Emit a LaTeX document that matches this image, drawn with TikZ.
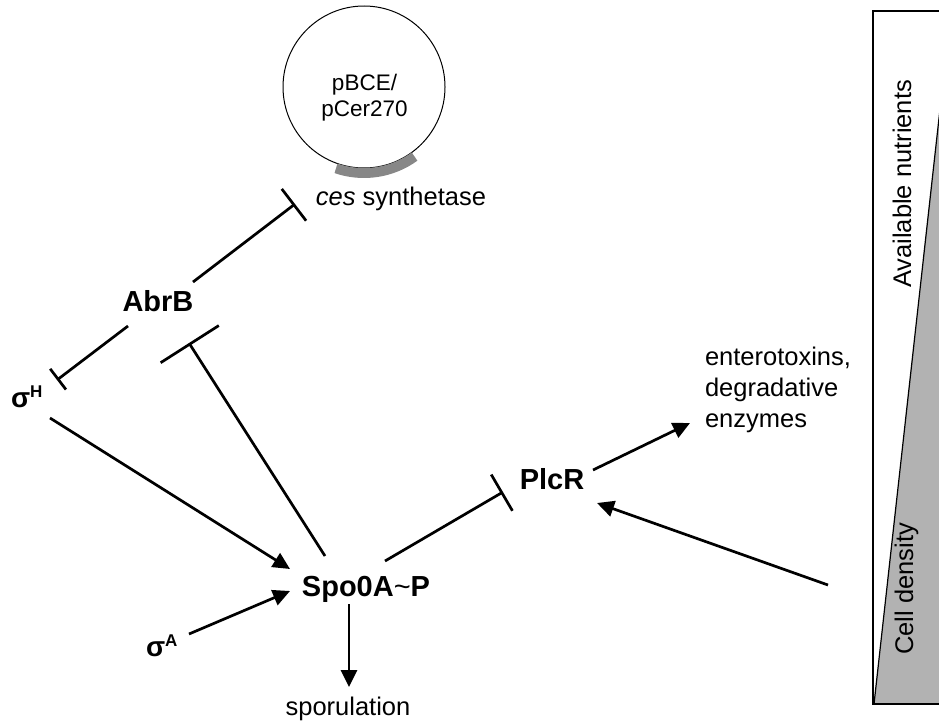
\documentclass[tikz,border=0pt]{standalone}
\usepackage{fontspec}
\setmainfont{Liberation Sans}
\usetikzlibrary{arrows.meta}
\begin{document}
\begin{tikzpicture}[x=1pt,y=-1pt,
  every node/.style={inner sep=0pt, outer sep=0pt},
  gene/.style={font=\fontsize{29}{34}\selectfont\bfseries, anchor=base},
  sig/.style={font=\fontsize{28}{34}\selectfont\bfseries, anchor=base west},
  lab/.style={font=\fontsize{25.5}{31}\selectfont},
  act/.style={line width=2.7pt, -{Triangle[length=17pt,width=16pt]}},
  inh/.style={line width=2.7pt, -{Bar[width=#1]}},
]
\useasboundingbox (0,0) rectangle (939,720);

% right gradient box
\begin{scope}
\clip (0,0) rectangle (939,720);
\filldraw[fill=black!30, line width=1.2pt] (874,704) -- (945,64) -- (945,704) -- cycle;
\draw[line width=1.2pt] (873,11) rectangle (960,704);
\end{scope}
\node[lab, rotate=90, anchor=base] (nutr) at (911,184) {Available nutrients};
\node[lab, rotate=90, anchor=base] (dens) at (913,589) {Cell density};

% plasmid
\node[draw, circle, minimum size=162pt, line width=1pt] (plasmid) at (364,87) {};
\draw[black!47, line width=10pt] (plasmid.center) ++(54:86) arc[start angle=54, end angle=109, radius=86];
\node[font=\fontsize{22.5}{26}\selectfont, align=center, anchor=base] (plab) at (364.5,116) {pBCE/\\pCer270};

% nodes
\node[lab, anchor=base] (ces) at (401,205) {\textit{ces} synthetase};
\node[gene] (abrb) at (158,311) {AbrB};
\node[gene] (spo) at (366,596) {Spo0A{\mdseries\textasciitilde}P};
\node[gene] (plcr) at (552,489) {PlcR};
\node[sig] (sigH) at (11,407) {σ\raisebox{10pt}{\fontsize{17}{17}\selectfont H}};
\node[sig] (sigA) at (146,656) {σ\raisebox{10pt}{\fontsize{17}{17}\selectfont A}};
\node[lab, anchor=base] (spor) at (348,715) {sporulation};
\node[lab, anchor=base west, align=left] (ent) at (705,427) {enterotoxins,\\degradative\\enzymes};
\coordinate (cellsrc) at (828,585);

% inhibitions
\draw[inh=40pt] ([shift={(35,-29)}]abrb.base) -- ([shift={(-106,-1)}]ces.base);
\draw[inh=26pt] ([shift={(-30,15)}]abrb.base) -- ([shift={(46,-27)}]sigH.base west);
\draw[inh=69pt] ([shift={(-41,-40)}]spo.base) -- ([shift={(31,32)}]abrb.base);
\draw[inh=42pt] ([shift={(19,-35)}]spo.base) -- ([shift={(-49,3)}]plcr.base);

% activations
\draw[act] ([shift={(39,11)}]sigH.base west) -- ([shift={(-76,-27)}]spo.base);
\draw[act] ([shift={(43,-22)}]sigA.base west) -- ([shift={(-76,-5)}]spo.base);
\draw[act] ([shift={(-17,8)}]spo.base) -- ([shift={(1,-28)}]spor.base);
\draw[act] ([shift={(41,-19)}]plcr.base) -- ([shift={(-15,-4)}]ent.base west);
\draw[act] (cellsrc) -- ([shift={(45,14)}]plcr.base);
\end{tikzpicture}
\end{document}
